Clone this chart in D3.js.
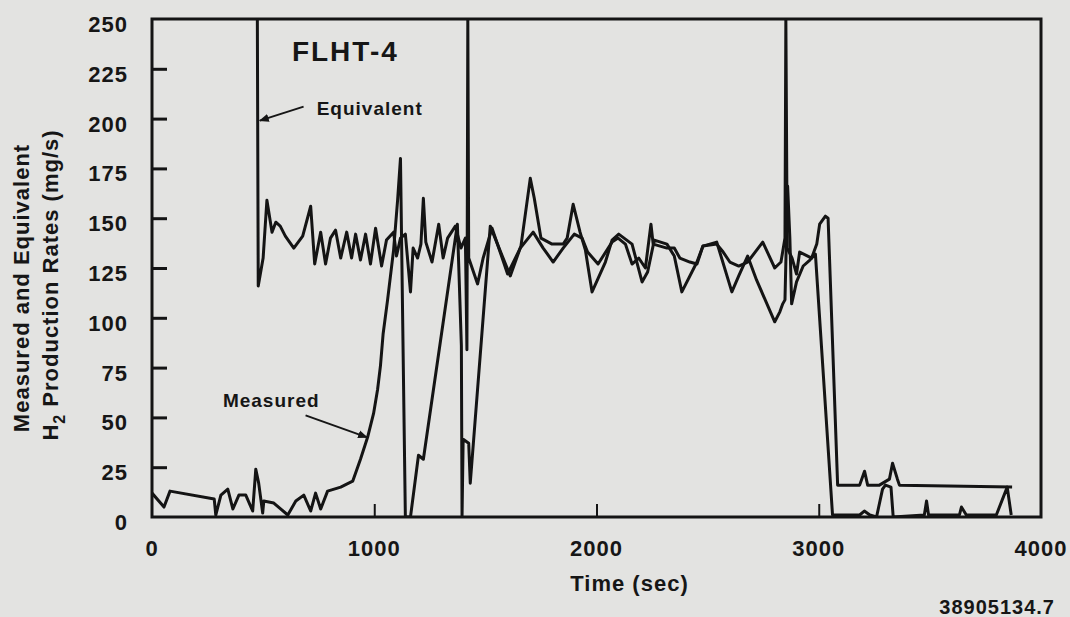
<!DOCTYPE html>
<html>
<head>
<meta charset="utf-8">
<script src="https://cdn.jsdelivr.net/npm/d3@7"></script>
<style>
  body { margin: 0; background: #e3e3e1; }
  svg { display: block; }
  text { font-family: "Liberation Sans", Arial, sans-serif; font-weight: bold; fill: #161616; letter-spacing: 1px; }
</style>
</head>
<body>
<div class="viz"></div>
<script>
// values, [time (sec), rate (mg/s)]
var equivalent = [
  [474,250],[478,116],[500,130],[517,159],[540,143],[557,148],[577,146],[600,141],[638,135],[678,141],
  [714,156],[732,127],[759,143],[781,127],[803,140],[826,144],[849,130],[876,143],[898,130],[916,142],
  [938,129],[961,142],[983,127],[1006,145],[1033,126],[1055,139],[1087,143],[1100,131],[1118,140],[1140,142],
  [1163,113],[1175,135],[1195,130],[1210,137],[1221,160],[1232,138],[1260,128],[1290,147],[1310,130],[1330,140],
  [1365,146],[1390,135],[1410,140],[1417,84],[1421,250],[1425,130],[1465,117],[1490,130],[1530,145],[1600,122],
  [1657,135],[1715,143],[1760,135],[1805,128],[1850,135],[1900,142],[1935,140],[1960,133],[2007,127],[2070,138],
  [2097,140],[2130,137],[2160,127],[2190,130],[2220,125],[2245,147],[2255,137],[2317,135],[2350,135],[2375,130],
  [2420,128],[2452,127],[2479,136],[2541,137],[2570,133],[2600,128],[2640,126],[2680,128],[2748,138],[2802,125],
  [2830,128],[2848,140],[2852,250],[2858,135],[2880,130],[2900,122],[2914,133],[2968,130],[2991,137],[3004,147],
  [3030,151],[3042,150],[3085,16],[3184,16],[3206,23],[3220,16],[3273,16],[3318,19],[3332,27],[3354,19],
  [3363,16],[3870,15]
]

var measured = [
  [0,12],[54,5],[81,13],[280,9],[287,1],[310,11],[341,14],[364,4],[391,11],[422,11],
  [453,3],[467,24],[480,17],[498,2],[503,8],[548,7],[611,1],[647,8],[683,11],[714,3],
  [736,12],[759,4],[790,13],[849,15],[903,18],[938,29],[970,40],[997,52],[1015,64],[1028,76],
  [1040,92],[1060,109],[1087,134],[1105,159],[1118,180],[1140,0],[1163,0],[1199,31],[1221,29],[1374,147],
  [1392,86],[1395,0],[1400,39],[1425,37],[1432,17],[1522,146],[1612,121],[1660,136],[1702,170],[1720,160],
  [1750,140],[1800,137],[1850,137],[1868,140],[1895,157],[1926,143],[1950,134],[1980,113],[2040,128],[2070,139],
  [2100,142],[2160,137],[2205,118],[2230,123],[2260,139],[2317,137],[2350,131],[2384,113],[2452,128],[2479,136],
  [2541,138],[2609,113],[2640,121],[2680,131],[2720,119],[2802,98],[2825,103],[2838,107],[2848,109],[2860,166],
  [2870,140],[2878,107],[2900,118],[2930,126],[2960,129],[2985,132],[3062,1],[3070,1],[3184,1],[3205,3],
  [3230,1],[3260,0],[3287,14],[3300,16],[3325,15],[3335,0],[3475,1],[3485,8],[3494,1],[3633,1],
  [3642,5],[3664,1],[3799,1],[3848,15],[3866,1]
]

var xTicks = [0, 1000, 2000, 3000, 4000]
var yTicks = [0, 25, 50, 75, 100, 125, 150, 175, 200, 225, 250]

// set the dimensions and margins of the graph
var margin = {top: 19, right: 29, bottom: 100, left: 152},
    width = 1070 - margin.left - margin.right,
    height = 617 - margin.top - margin.bottom;

var svg = d3.select(".viz")
  .append("svg")
    .attr("width", 1070)
    .attr("height", 617)
  .append("g")
    .attr("transform", "translate(" + margin.left + "," + margin.top + ")");

var x = d3.scaleLinear().domain([0, 4000]).range([0, width])
var y = d3.scaleLinear().domain([0, 250]).range([height, 0])

svg.append("defs").append("clipPath")
    .attr("id", "plot-clip")
  .append("rect")
    .attr("width", width)
    .attr("height", height)

svg.select("defs").append("marker")
    .attr("id", "arrow")
    .attr("viewBox", "0 0 10 10")
    .attr("refX", 9).attr("refY", 5)
    .attr("markerWidth", 5).attr("markerHeight", 5)
    .attr("orient", "auto")
  .append("path")
    .attr("d", "M0,1 L10,5 L0,9 z")
    .attr("fill", "#161616")

// the two series
var line = d3.line()
    .x(function(d) { return x(d[0]) })
    .y(function(d) { return y(d[1]) })

var plot = svg.append("g").attr("clip-path", "url(#plot-clip)")

plot.selectAll("path.series")
  .data([equivalent, measured])
  .enter().append("path")
    .attr("class", "series")
    .attr("d", line)
    .attr("fill", "none")
    .attr("stroke", "#141414")
    .attr("stroke-width", 3)
    .attr("stroke-linejoin", "round")

// frame
svg.append("rect")
    .attr("width", width)
    .attr("height", height)
    .attr("fill", "none")
    .attr("stroke", "#141414")
    .attr("stroke-width", 3)

// y axis: ticks point inward, labels to the left
var yAxis = svg.append("g")
    .call(d3.axisRight(y).tickValues(yTicks).tickSize(15).tickFormat(""))
yAxis.select(".domain").remove()
yAxis.selectAll(".tick line")
    .attr("stroke", "#141414")
    .attr("stroke-width", 3)
    .filter(function(d) { return d == 0 || d == 250 }).remove()

svg.selectAll("text.ylab")
  .data(yTicks)
  .enter().append("text")
    .attr("class", "ylab")
    .attr("x", -24)
    .attr("y", function(d) { return y(d) + 13 })
    .attr("text-anchor", "end")
    .style("font-size", "22px")
    .text(function(d) { return d })

// x axis
var xAxis = svg.append("g")
    .attr("transform", "translate(0," + height + ")")
    .call(d3.axisTop(x).tickValues(xTicks).tickSize(13).tickFormat(""))
xAxis.select(".domain").remove()
xAxis.selectAll(".tick line")
    .attr("stroke", "#141414")
    .attr("stroke-width", 2)
    .filter(function(d) { return d == 0 || d == 4000 }).remove()

svg.selectAll("text.xlab")
  .data(xTicks)
  .enter().append("text")
    .attr("class", "xlab")
    .attr("x", function(d) { return x(d) })
    .attr("y", height + 39)
    .attr("text-anchor", "middle")
    .style("font-size", "22px")
    .text(function(d) { return d })

svg.append("text")
    .attr("x", x(2000) + 33)
    .attr("y", height + 74)
    .attr("text-anchor", "middle")
    .style("font-size", "22px")
    .text("Time (sec)")

// y axis title, two lines
var yTitle = svg.append("g")
    .attr("transform", "translate(" + (-margin.left) + "," + (-margin.top) + ")")

yTitle.append("text")
    .attr("transform", "translate(29,288) rotate(-90)")
    .attr("text-anchor", "middle")
    .style("font-size", "22px")
    .text("Measured and Equivalent")

var t2 = yTitle.append("text")
    .attr("transform", "translate(58,285) rotate(-90)")
    .attr("text-anchor", "middle")
    .style("font-size", "22px")
t2.append("tspan").text("H")
t2.append("tspan").attr("dy", 7).style("font-size", "16px").text("2")
t2.append("tspan").attr("dy", -7).text(" Production Rates (mg/s)")

// title and labels placed in data space
svg.append("text")
    .attr("x", x(870))
    .attr("y", y(229))
    .attr("text-anchor", "middle")
    .style("font-size", "28px")
    .style("letter-spacing", "2px")
    .text("FLHT-4")

svg.append("text")
    .attr("x", x(741))
    .attr("y", y(202))
    .style("font-size", "19px")
    .text("Equivalent")

svg.append("line")
    .attr("x1", x(682)).attr("y1", y(206))
    .attr("x2", x(485)).attr("y2", y(199))
    .attr("stroke", "#161616")
    .attr("stroke-width", 2)
    .attr("marker-end", "url(#arrow)")

svg.append("text")
    .attr("x", x(319))
    .attr("y", y(55))
    .style("font-size", "19px")
    .text("Measured")

svg.append("line")
    .attr("x1", x(691)).attr("y1", y(51))
    .attr("x2", x(968)).attr("y2", y(40))
    .attr("stroke", "#161616")
    .attr("stroke-width", 2)
    .attr("marker-end", "url(#arrow)")

// figure number bottom right
svg.append("text")
    .attr("x", 1055 - margin.left)
    .attr("y", 614 - margin.top)
    .attr("text-anchor", "end")
    .style("font-size", "20px")
    .text("38905134.7")
</script>
</body>
</html>
